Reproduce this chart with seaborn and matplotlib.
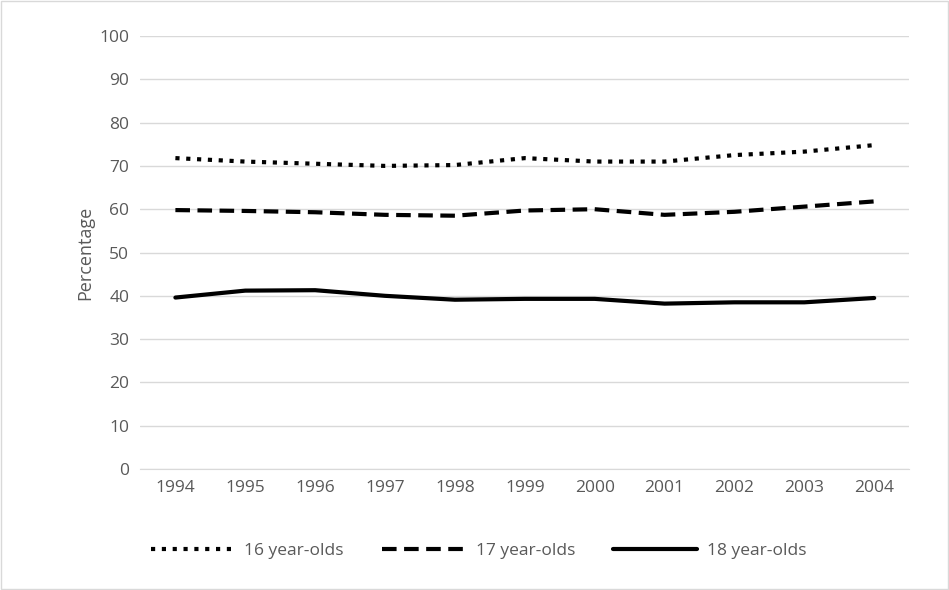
import matplotlib
matplotlib.use("Agg")
import matplotlib.pyplot as plt
import seaborn as sns
import pandas as pd

years = [1994, 1995, 1996, 1997, 1998, 1999, 2000, 2001, 2002, 2003, 2004]
age16 = [71.8, 71.0, 70.5, 70.0, 70.2, 71.8, 71.0, 71.0, 72.5, 73.3, 74.8]
age17 = [59.8, 59.6, 59.3, 58.7, 58.5, 59.7, 60.0, 58.7, 59.4, 60.6, 61.8]
age18 = [39.6, 41.2, 41.3, 40.0, 39.1, 39.3, 39.3, 38.2, 38.5, 38.5, 39.5]
labels = ["16 year-olds", "17 year-olds", "18 year-olds"]

sns.set_style("white")
plt.rcParams["font.family"] = ["Open Sans", "DejaVu Sans"]

df = pd.DataFrame({"Year": [str(y) for y in years],
                   labels[0]: age16, labels[1]: age17, labels[2]: age18})
long = df.melt(id_vars="Year", var_name="Group", value_name="Percentage")

fig = plt.figure(figsize=(9.49, 5.90), dpi=100)
ax = fig.add_axes([0.148, 0.205, 0.81, 0.734])
styles = {labels[0]: (0, (1, 1.6)), labels[1]: (0, (3.5, 1.8)), labels[2]: "-"}
for g in labels:
    sub = long[long["Group"] == g]
    sns.lineplot(data=sub, x="Year", y="Percentage", ax=ax, color="black",
                 linewidth=3, linestyle=styles[g], label=g, sort=False)

ax.set_ylim(0, 100)
ax.set_yticks(range(0, 101, 10))
ax.set_xlim(-0.5, len(years) - 0.5)
ax.grid(axis="y", color="#d9d9d9", linewidth=1)
ax.set_axisbelow(True)
for s in ["top", "right", "left"]:
    ax.spines[s].set_visible(False)
ax.spines["bottom"].set_color("#d9d9d9")
ax.tick_params(axis="both", length=0, labelsize=12.5, colors="#595959", pad=8)
ax.set_xlabel("")
ax.set_ylabel("Percentage", fontsize=13, color="#595959")
ax.legend(loc="upper center", bbox_to_anchor=(0.44, -0.135), ncol=3, frameon=False,
          fontsize=12.5, handlelength=4.8, handletextpad=0.6, columnspacing=2.2,
          labelcolor="#595959")
fig.patches.append(plt.Rectangle((0.001, 0.001), 0.998, 0.998, transform=fig.transFigure,
                                 fill=False, edgecolor="#d9d9d9", linewidth=1))
fig.savefig("out.png", dpi=100)
